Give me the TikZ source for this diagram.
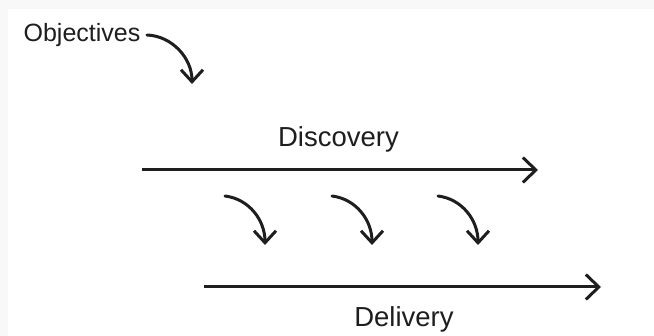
\documentclass[tikz,border=0pt]{standalone}
\usepackage{fontspec}
\setmainfont{Liberation Sans}
\usetikzlibrary{arrows.meta}
\definecolor{ink}{RGB}{30,30,30}
\definecolor{edge}{RGB}{248,248,248}
\tikzset{
  lbl/.style={inner sep=0pt, anchor=base, text=ink, font=\fontsize{27.5}{32}\selectfont},
  flow/.style={draw=ink, line width=3pt, -{Straight Barb[length=13pt,width=25pt,line width=3pt]}},
  curvearrow/.style={draw=ink, line width=3pt, line cap=round, -{Straight Barb[length=12pt,width=22pt,line width=3pt]}}
}
\begin{document}
\begin{tikzpicture}[x=1pt,y=-1pt]
\fill[edge] (0,0) rectangle (654,336);
\fill[white] (8,9) rectangle (654,336);
\useasboundingbox (0,0) rectangle (654,336);
% labels
\node[lbl, font=\fontsize{25}{30}\selectfont] (obj) at (82,42) {Objectives};
\node[lbl] (disc) at (338.5,147) {Discovery};
\node[lbl] (deli) at (404,327) {Delivery};
% main arrows
\coordinate (d1) at (142,170);
\coordinate (d2) at (538,170);
\coordinate (e1) at (204,287);
\coordinate (e2) at (601,287);
\draw[flow] (d1) -- (d2);
\draw[flow] (e1) -- (e2);
% objectives arrow
\coordinate (o1) at (147,35);
\coordinate (o2) at (192,84);
\draw[curvearrow] (o1) .. controls (172,36) and (192,58) .. (o2);
% three curved arrows
\foreach \x [count=\i] in {225,332,438}{
  \coordinate (s\i) at (\x,196);
  \coordinate (t\i) at (\x+40,245);
  \draw[curvearrow] (s\i) .. controls (\x+24,199) and (\x+40,220) .. (t\i);
}
\end{tikzpicture}
\end{document}
